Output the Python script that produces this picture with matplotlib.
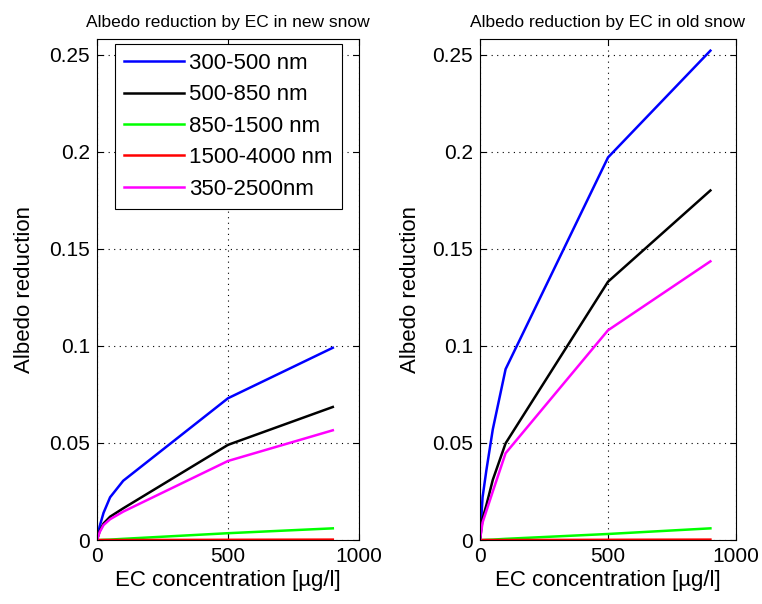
import matplotlib
matplotlib.use("Agg")
import matplotlib.pyplot as plt

ec = [0, 10, 25, 50, 100, 500, 900]

labels = ["300-500 nm", "500-850 nm", "850-1500 nm", "1500-4000 nm", "350-2500nm"]
colors = ["#0000ff", "#000000", "#00ff00", "#ff0000", "#ff00ff"]

new_300_500 = [0.0, 0.007, 0.014, 0.022, 0.0305, 0.073, 0.099]
new_500_850 = [0.0, 0.0045, 0.0085, 0.012, 0.0163, 0.049, 0.0685]
new_850_1500 = [0.0, 0.0, 0.0001, 0.0002, 0.0006, 0.0035, 0.006]
new_1500_4000 = [0.0, 0.0, 0.0, 0.0, 0.0, 0.0001, 0.0002]
new_350_2500 = [0.0, 0.004, 0.0077, 0.0107, 0.0146, 0.0407, 0.0565]

old_300_500 = [0.0, 0.022, 0.036, 0.057, 0.088, 0.197, 0.252]
old_500_850 = [0.0, 0.011, 0.018, 0.031, 0.0498, 0.133, 0.180]
old_850_1500 = [0.0, 0.0, 0.0001, 0.0002, 0.0006, 0.0031, 0.006]
old_1500_4000 = [0.0, 0.0, 0.0, 0.0, 0.0, 0.0001, 0.0002]
old_350_2500 = [0.0, 0.009, 0.015, 0.025, 0.0447, 0.108, 0.1435]

x_ticks = [0, 500, 1000]
y_ticks = [0, 0.05, 0.1, 0.15, 0.2, 0.25]
y_tick_labels = ["0", "0.05", "0.1", "0.15", "0.2", "0.25"]

plt.rcParams["font.family"] = ["Liberation Sans", "DejaVu Sans"]

fig = plt.figure(figsize=(7.62, 6.04), dpi=100)
ax1 = fig.add_axes([97 / 762, 64 / 604, 262 / 762, 501 / 604])
ax2 = fig.add_axes([480 / 762, 64 / 604, 256 / 762, 501 / 604])

def draw(ax, series, title, ylab_x, legend=False):
    for vals, c, lab in zip(series, colors, labels):
        ax.plot(ec, vals, color=c, lw=1.8, label=lab)
    ax.set_xlim(0, 1000)
    ax.set_ylim(0, 0.258)
    ax.set_xticks(x_ticks)
    ax.set_xticklabels([str(t) for t in x_ticks])
    ax.set_yticks(y_ticks)
    ax.set_yticklabels(y_tick_labels)
    ax.tick_params(direction="in", top=True, right=True, labelsize=15, length=4, pad=5)
    ax.grid(True, color="black", linestyle=(0, (1, 4)), linewidth=0.8)
    for s in ax.spines.values():
        s.set_linewidth(0.8)
    ax.set_xlabel("EC concentration [µg/l]", fontsize=16, labelpad=3)
    ax.set_ylabel("Albedo reduction", fontsize=16)
    ax.yaxis.set_label_coords(ylab_x, 0.5)
    ax.set_title(title, fontsize=12.5, pad=9)
    if legend:
        leg = ax.legend(loc="upper left", bbox_to_anchor=(0.068, 0.99), fontsize=16,
                        handlelength=2.7, handletextpad=0.25, labelspacing=0.47,
                        fancybox=False, edgecolor="black", framealpha=1,
                        borderpad=0.4, borderaxespad=0.0)
        leg.get_frame().set_linewidth(0.8)

draw(ax1, [new_300_500, new_500_850, new_850_1500, new_1500_4000, new_350_2500],
     "Albedo reduction by EC in new snow", -0.235, legend=True)
draw(ax2, [old_300_500, old_500_850, old_850_1500, old_1500_4000, old_350_2500],
     "Albedo reduction by EC in old snow", -0.23)

fig.savefig("out.png", dpi=100)
